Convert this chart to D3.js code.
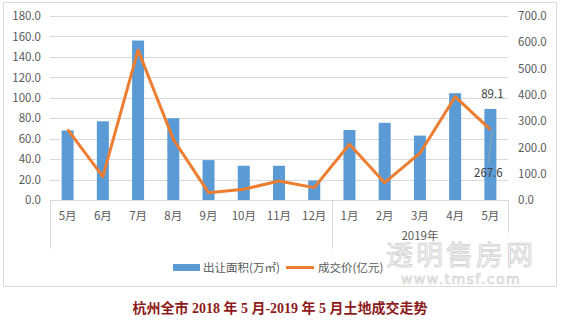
<!DOCTYPE html>
<html><head><meta charset="utf-8">
<script src="https://cdn.jsdelivr.net/npm/d3@7"></script>
<style>body{margin:0;background:#fff}svg{display:block}</style>
</head><body>
<svg id="c" width="565" height="323"></svg>
<script>
const categories = ["5月","6月","7月","8月","9月","10月","11月","12月","1月","2月","3月","4月","5月"];
const areaValues = [68, 77, 156, 80, 39, 33.5, 33.5, 19, 68.5, 75.5, 63, 104.5, 89.1];
const priceValues = [269, 89, 570, 231, 28, 41, 72, 47, 212, 66, 178, 393, 267.6];
const leftTicks = [0,20,40,60,80,100,120,140,160,180];
const rightTicks = [0,100,200,300,400,500,600,700];
const groupLabel = "2019年";
const seriesNames = ["出让面积(万㎡)", "成交价(亿元)"];
const title = "杭州全市 2018 年 5 月-2019 年 5 月土地成交走势";

const svg = d3.select("#c");
const L = 50, R = 508, T = 16, B = 200;
const font = "'Noto Sans CJK SC', 'DejaVu Sans', sans-serif";
const textCol = "#595959";

svg.append("rect").attr("x",3.5).attr("y",2.5).attr("width",553).attr("height",284)
  .attr("fill","#fff").attr("stroke","#D9D9D9");

const x = d3.scaleBand().domain(d3.range(categories.length)).range([L,R]);
const yL = d3.scaleLinear().domain([0,180]).range([B,T]);
const yR = d3.scaleLinear().domain([0,700]).range([B,T]);

// gridlines
svg.append("g").selectAll("line").data(leftTicks.slice(1)).join("line")
  .attr("x1",L).attr("x2",R).attr("y1",d=>Math.round(yL(d))+0.5).attr("y2",d=>Math.round(yL(d))+0.5)
  .attr("stroke","#D9D9D9").attr("stroke-width",1);

// left axis
const la = svg.append("g").attr("transform",`translate(${L},0)`)
  .call(d3.axisLeft(yL).tickValues(leftTicks).tickFormat(d3.format(".1f")).tickSize(0).tickPadding(9));
la.select(".domain").remove();
la.selectAll("text").attr("font-family",font).attr("font-size",11.5).attr("fill",textCol);

// right axis
const ra = svg.append("g").attr("transform",`translate(${R},0)`)
  .call(d3.axisRight(yR).tickValues(rightTicks).tickFormat(d3.format(".1f")).tickSize(0).tickPadding(10));
ra.select(".domain").remove();
ra.selectAll("text").attr("font-family",font).attr("font-size",11.5).attr("fill",textCol);

// bars
const bw = 12;
svg.append("g").selectAll("rect").data(areaValues).join("rect")
  .attr("x",(d,i)=>x(i)+x.bandwidth()/2-bw/2).attr("width",bw)
  .attr("y",d=>yL(d)).attr("height",d=>B-yL(d)).attr("fill","#5B9BD5");

// x axis line & category separators
svg.append("line").attr("x1",L).attr("x2",R).attr("y1",B+0.5).attr("y2",B+0.5).attr("stroke","#D9D9D9");
[[0,249],[8,249],[13,233]].forEach(([i,y2])=>{
  const xx = Math.round(i<13 ? x(i) : R)+0.5;
  svg.append("line").attr("x1",xx).attr("x2",xx).attr("y1",B).attr("y2",y2).attr("stroke","#D9D9D9");
});

// category labels
svg.append("g").selectAll("text").data(categories).join("text")
  .attr("x",(d,i)=>x(i)+x.bandwidth()/2).attr("y",220)
  .attr("text-anchor","middle").attr("font-family",font).attr("font-size",11.5).attr("fill",textCol)
  .text(d=>d);
svg.append("text").attr("x",(x(8)+R)/2).attr("y",240).attr("text-anchor","middle")
  .attr("font-family",font).attr("font-size",11.5).attr("fill",textCol).text(groupLabel);

// line
const line = d3.line().x((d,i)=>x(i)+x.bandwidth()/2).y(d=>yR(d));
svg.append("path").datum(priceValues).attr("d",line).attr("fill","none")
  .attr("stroke","#ED7D31").attr("stroke-width",3).attr("stroke-linejoin","round");

// data labels
const li = categories.length-1;
const cx = x(li)+x.bandwidth()/2;
svg.append("text").attr("x",cx+2).attr("y",yL(areaValues[li])-11).attr("text-anchor","middle")
  .attr("font-family",font).attr("font-size",11.5).attr("fill","#404040").text(areaValues[li].toFixed(1));
svg.append("line").attr("x1",cx+2).attr("y1",yR(priceValues[li])).attr("x2",cx-2).attr("y2",yR(priceValues[li])+33)
  .attr("stroke","#A6A6A6").attr("stroke-width",0.8);
svg.append("text").attr("x",cx-2).attr("y",yR(priceValues[li])+47).attr("text-anchor","middle")
  .attr("font-family",font).attr("font-size",11.5).attr("fill","#404040").text(priceValues[li].toFixed(1));

// legend
const lg = svg.append("g");
lg.append("rect").attr("x",173).attr("y",264).attr("width",27).attr("height",7).attr("fill","#5B9BD5");
lg.append("text").attr("x",203).attr("y",272).attr("font-family",font).attr("font-size",11.5).attr("fill",textCol).text(seriesNames[0]);
lg.append("line").attr("x1",286).attr("x2",314).attr("y1",267.5).attr("y2",267.5).attr("stroke","#ED7D31").attr("stroke-width",3);
lg.append("text").attr("x",318).attr("y",272).attr("font-family",font).attr("font-size",11.5).attr("fill",textCol).text(seriesNames[1]);

// watermark
svg.append("text").attr("x",461).attr("y",265).attr("text-anchor","middle")
  .attr("font-family",font).attr("font-size",27).attr("fill","#f5f5f5").attr("stroke","#d2d2d2").attr("stroke-width",0.8)
  .attr("letter-spacing",3).text("透明售房网");
svg.append("text").attr("x",461).attr("y",284).attr("text-anchor","middle")
  .attr("font-family","'DejaVu Sans', sans-serif").attr("font-size",14).attr("fill","#f5f5f5").attr("stroke","#d2d2d2").attr("stroke-width",0.7)
  .attr("letter-spacing",1.5).text("www.tmsf.com");

// title
svg.append("text").attr("x",280).attr("y",313).attr("text-anchor","middle")
  .attr("font-family","'Liberation Serif', 'Noto Sans CJK SC', serif").attr("font-weight","bold")
  .attr("font-size",14).attr("fill","#8E1B1B").text(title);
</script>
</body></html>
